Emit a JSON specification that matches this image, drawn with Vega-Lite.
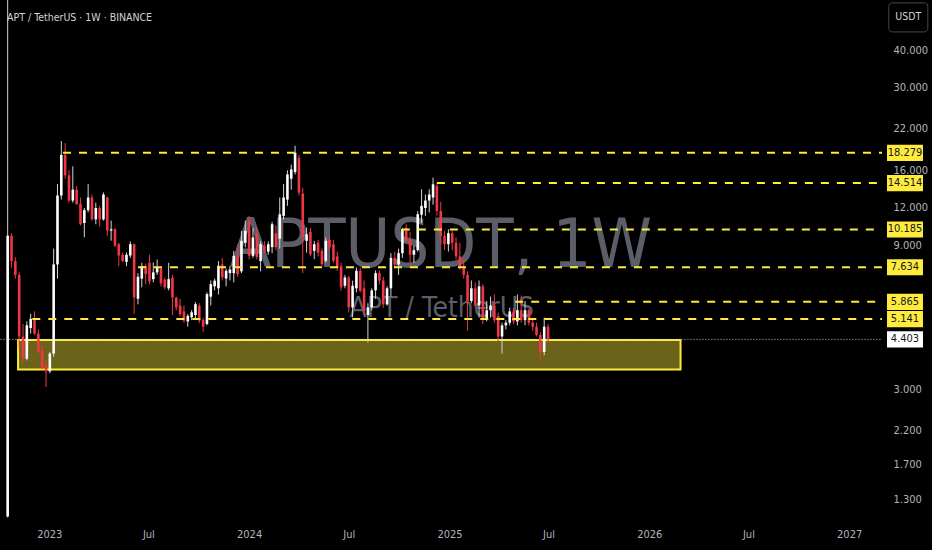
{
  "$schema": "https://vega.github.io/schema/vega-lite/v6.json",
  "width": 882,
  "height": 520,
  "autosize": {"type": "none"},
  "padding": {"left": 0, "top": 0, "right": 50, "bottom": 30},
  "background": "#000000",
  "config": {
    "view": {"stroke": null},
    "text": {"font": "DejaVu Sans Condensed, sans-serif"},
    "axis": {"labelFont": "DejaVu Sans Condensed, sans-serif"}
  },
  "datasets": {
    "candles": [
      {"d":"2022-10-17","o":1.14,"h":100,"l":1.13,"c":9.7},
      {"d":"2022-10-24","o":9.7,"h":9.9,"l":7.6,"c":8.0},
      {"d":"2022-10-31","o":8.0,"h":8.25,"l":7.0,"c":7.2},
      {"d":"2022-11-07","o":7.2,"h":7.35,"l":4.1,"c":4.5},
      {"d":"2022-11-14","o":4.5,"h":4.95,"l":3.7,"c":3.8},
      {"d":"2022-11-21","o":3.8,"h":5.05,"l":3.75,"c":4.9},
      {"d":"2022-11-28","o":4.8,"h":5.35,"l":4.6,"c":5.15},
      {"d":"2022-12-05","o":5.15,"h":5.45,"l":4.55,"c":4.6},
      {"d":"2022-12-12","o":4.6,"h":4.75,"l":3.95,"c":4.0},
      {"d":"2022-12-19","o":4.05,"h":4.2,"l":3.5,"c":3.55},
      {"d":"2022-12-26","o":3.6,"h":3.75,"l":3.06,"c":3.45},
      {"d":"2023-01-02","o":3.45,"h":4.0,"l":3.4,"c":3.95},
      {"d":"2023-01-09","o":3.95,"h":8.8,"l":3.85,"c":7.8},
      {"d":"2023-01-16","o":7.8,"h":14.4,"l":7.0,"c":13.2},
      {"d":"2023-01-23","o":13.2,"h":20.0,"l":12.8,"c":18.0},
      {"d":"2023-01-30","o":18.0,"h":19.7,"l":15.0,"c":15.4},
      {"d":"2023-02-06","o":15.4,"h":16.0,"l":12.5,"c":12.7},
      {"d":"2023-02-13","o":12.7,"h":16.5,"l":12.5,"c":13.8},
      {"d":"2023-02-20","o":13.8,"h":14.2,"l":12.3,"c":12.35},
      {"d":"2023-02-27","o":12.4,"h":13.0,"l":10.5,"c":10.6},
      {"d":"2023-03-06","o":10.7,"h":12.0,"l":9.6,"c":11.8},
      {"d":"2023-03-13","o":11.8,"h":14.4,"l":11.6,"c":13.0},
      {"d":"2023-03-20","o":13.0,"h":13.3,"l":10.9,"c":11.0},
      {"d":"2023-03-27","o":11.0,"h":12.5,"l":10.6,"c":12.0},
      {"d":"2023-04-03","o":12.0,"h":12.2,"l":10.4,"c":11.0},
      {"d":"2023-04-10","o":11.0,"h":13.5,"l":10.9,"c":13.3},
      {"d":"2023-04-17","o":13.0,"h":13.1,"l":9.7,"c":10.1},
      {"d":"2023-04-24","o":10.1,"h":10.9,"l":9.35,"c":10.2},
      {"d":"2023-05-01","o":10.2,"h":10.3,"l":8.9,"c":9.0},
      {"d":"2023-05-08","o":9.1,"h":9.2,"l":7.7,"c":8.35},
      {"d":"2023-05-15","o":8.4,"h":8.55,"l":7.95,"c":8.0},
      {"d":"2023-05-22","o":7.95,"h":8.55,"l":7.7,"c":8.4},
      {"d":"2023-05-29","o":8.35,"h":9.3,"l":8.2,"c":9.1},
      {"d":"2023-06-05","o":9.1,"h":9.15,"l":5.35,"c":6.06},
      {"d":"2023-06-12","o":6.0,"h":7.3,"l":5.75,"c":7.1},
      {"d":"2023-06-19","o":7.0,"h":7.9,"l":6.55,"c":7.7},
      {"d":"2023-06-26","o":7.7,"h":7.85,"l":6.7,"c":7.25},
      {"d":"2023-07-03","o":7.9,"h":8.4,"l":6.7,"c":6.85},
      {"d":"2023-07-10","o":6.97,"h":7.92,"l":6.8,"c":7.34},
      {"d":"2023-07-17","o":7.34,"h":8.1,"l":7.2,"c":7.6},
      {"d":"2023-07-24","o":7.55,"h":7.6,"l":6.6,"c":6.75},
      {"d":"2023-07-31","o":6.95,"h":7.05,"l":6.45,"c":6.55},
      {"d":"2023-08-07","o":6.5,"h":7.9,"l":6.4,"c":6.97},
      {"d":"2023-08-14","o":7.05,"h":7.2,"l":5.3,"c":6.06},
      {"d":"2023-08-21","o":6.06,"h":6.1,"l":5.5,"c":5.62},
      {"d":"2023-08-28","o":5.7,"h":6.0,"l":5.25,"c":5.34},
      {"d":"2023-09-04","o":5.45,"h":5.7,"l":5.0,"c":5.08},
      {"d":"2023-09-11","o":5.05,"h":5.34,"l":4.85,"c":5.27},
      {"d":"2023-09-18","o":5.21,"h":5.5,"l":5.1,"c":5.41},
      {"d":"2023-09-25","o":5.3,"h":5.85,"l":5.15,"c":5.76},
      {"d":"2023-10-02","o":5.69,"h":5.8,"l":4.98,"c":5.08},
      {"d":"2023-10-09","o":5.1,"h":5.2,"l":4.65,"c":4.85},
      {"d":"2023-10-16","o":4.95,"h":6.3,"l":4.9,"c":6.22},
      {"d":"2023-10-23","o":6.1,"h":6.9,"l":5.7,"c":6.71},
      {"d":"2023-10-30","o":6.6,"h":7.0,"l":6.4,"c":6.89},
      {"d":"2023-11-06","o":6.5,"h":8.0,"l":6.2,"c":7.72},
      {"d":"2023-11-13","o":7.8,"h":8.2,"l":6.9,"c":7.06},
      {"d":"2023-11-20","o":7.0,"h":7.55,"l":6.6,"c":7.43},
      {"d":"2023-11-27","o":7.3,"h":7.7,"l":6.9,"c":7.5},
      {"d":"2023-12-04","o":7.3,"h":8.65,"l":6.8,"c":8.33},
      {"d":"2023-12-11","o":8.33,"h":9.1,"l":7.1,"c":7.24},
      {"d":"2023-12-18","o":7.4,"h":10.08,"l":7.3,"c":9.34},
      {"d":"2023-12-25","o":9.2,"h":10.9,"l":8.9,"c":10.08},
      {"d":"2024-01-01","o":10.9,"h":11.3,"l":8.1,"c":8.33},
      {"d":"2024-01-08","o":8.33,"h":10.3,"l":8.2,"c":9.58},
      {"d":"2024-01-15","o":9.8,"h":10.34,"l":8.1,"c":8.26},
      {"d":"2024-01-22","o":8.0,"h":9.3,"l":7.4,"c":9.1},
      {"d":"2024-01-29","o":9.0,"h":9.3,"l":8.5,"c":8.65},
      {"d":"2024-02-05","o":8.6,"h":9.3,"l":8.4,"c":9.1},
      {"d":"2024-02-12","o":8.9,"h":10.8,"l":8.5,"c":10.6},
      {"d":"2024-02-19","o":9.9,"h":10.5,"l":8.7,"c":8.9},
      {"d":"2024-02-26","o":9.5,"h":13.0,"l":8.8,"c":11.44},
      {"d":"2024-03-04","o":11.3,"h":14.4,"l":11.0,"c":13.0},
      {"d":"2024-03-11","o":12.8,"h":16.0,"l":12.2,"c":15.5},
      {"d":"2024-03-18","o":15.0,"h":16.7,"l":13.8,"c":16.1},
      {"d":"2024-03-25","o":15.8,"h":19.3,"l":15.5,"c":18.3},
      {"d":"2024-04-01","o":17.6,"h":18.0,"l":13.2,"c":13.5},
      {"d":"2024-04-08","o":13.4,"h":14.0,"l":7.3,"c":9.6},
      {"d":"2024-04-15","o":9.34,"h":10.34,"l":8.54,"c":9.82},
      {"d":"2024-04-22","o":10.0,"h":10.3,"l":8.3,"c":8.43},
      {"d":"2024-04-29","o":8.65,"h":9.34,"l":8.12,"c":9.1},
      {"d":"2024-05-06","o":9.22,"h":9.4,"l":8.3,"c":8.54},
      {"d":"2024-05-13","o":8.65,"h":8.8,"l":7.7,"c":7.82},
      {"d":"2024-05-20","o":8.02,"h":9.58,"l":7.9,"c":9.34},
      {"d":"2024-05-27","o":9.4,"h":9.7,"l":8.7,"c":8.88},
      {"d":"2024-06-03","o":9.1,"h":9.4,"l":7.9,"c":8.02},
      {"d":"2024-06-10","o":8.3,"h":8.6,"l":7.43,"c":7.62},
      {"d":"2024-06-17","o":7.7,"h":7.9,"l":6.38,"c":6.55},
      {"d":"2024-06-24","o":6.63,"h":7.2,"l":6.5,"c":7.06},
      {"d":"2024-07-01","o":7.06,"h":7.15,"l":5.41,"c":5.62},
      {"d":"2024-07-08","o":5.62,"h":6.89,"l":5.21,"c":6.63},
      {"d":"2024-07-15","o":6.5,"h":7.62,"l":6.3,"c":7.43},
      {"d":"2024-07-22","o":7.43,"h":7.6,"l":6.3,"c":6.38},
      {"d":"2024-07-29","o":6.5,"h":6.9,"l":5.3,"c":5.48},
      {"d":"2024-08-05","o":5.3,"h":5.8,"l":4.3,"c":5.62},
      {"d":"2024-08-12","o":5.62,"h":6.5,"l":5.5,"c":6.4},
      {"d":"2024-08-19","o":6.4,"h":7.45,"l":6.0,"c":7.3},
      {"d":"2024-08-26","o":7.3,"h":7.45,"l":6.7,"c":6.9},
      {"d":"2024-09-02","o":6.9,"h":7.1,"l":5.6,"c":5.75},
      {"d":"2024-09-09","o":5.75,"h":6.6,"l":5.7,"c":6.5},
      {"d":"2024-09-16","o":6.5,"h":8.5,"l":6.1,"c":8.2},
      {"d":"2024-09-23","o":8.2,"h":8.6,"l":7.6,"c":7.8},
      {"d":"2024-09-30","o":7.8,"h":8.8,"l":7.2,"c":8.5},
      {"d":"2024-10-07","o":8.5,"h":10.3,"l":8.2,"c":10.2},
      {"d":"2024-10-14","o":10.3,"h":10.6,"l":9.2,"c":9.34},
      {"d":"2024-10-21","o":9.4,"h":10.0,"l":7.7,"c":8.4},
      {"d":"2024-10-28","o":8.4,"h":9.0,"l":7.9,"c":8.7},
      {"d":"2024-11-04","o":8.7,"h":11.7,"l":8.6,"c":11.44},
      {"d":"2024-11-11","o":11.4,"h":13.84,"l":10.7,"c":12.2},
      {"d":"2024-11-18","o":12.0,"h":13.3,"l":11.3,"c":12.7},
      {"d":"2024-11-25","o":12.7,"h":13.84,"l":11.6,"c":13.3},
      {"d":"2024-12-02","o":13.0,"h":15.13,"l":12.3,"c":14.38},
      {"d":"2024-12-09","o":14.2,"h":14.5,"l":11.3,"c":11.73},
      {"d":"2024-12-16","o":11.73,"h":12.6,"l":9.1,"c":9.7},
      {"d":"2024-12-23","o":9.7,"h":10.1,"l":8.7,"c":9.1},
      {"d":"2024-12-30","o":9.1,"h":10.2,"l":8.6,"c":9.9},
      {"d":"2025-01-06","o":9.9,"h":10.1,"l":8.7,"c":9.2},
      {"d":"2025-01-13","o":9.2,"h":9.6,"l":8.1,"c":8.3},
      {"d":"2025-01-20","o":8.3,"h":9.2,"l":7.5,"c":7.6},
      {"d":"2025-01-27","o":7.6,"h":8.2,"l":7.0,"c":7.2},
      {"d":"2025-02-03","o":7.2,"h":7.4,"l":4.7,"c":5.9},
      {"d":"2025-02-10","o":5.9,"h":6.9,"l":5.8,"c":6.5},
      {"d":"2025-02-17","o":6.5,"h":6.8,"l":5.6,"c":5.7},
      {"d":"2025-02-24","o":5.7,"h":6.9,"l":5.2,"c":6.6},
      {"d":"2025-03-03","o":6.6,"h":6.7,"l":4.95,"c":5.15},
      {"d":"2025-03-10","o":5.15,"h":5.9,"l":5.05,"c":5.5},
      {"d":"2025-03-17","o":5.5,"h":6.1,"l":5.2,"c":5.7},
      {"d":"2025-03-24","o":5.7,"h":6.2,"l":5.0,"c":5.1},
      {"d":"2025-03-31","o":5.25,"h":5.4,"l":4.35,"c":4.5},
      {"d":"2025-04-07","o":4.5,"h":5.0,"l":3.95,"c":4.9},
      {"d":"2025-04-14","o":4.9,"h":5.1,"l":4.75,"c":5.0},
      {"d":"2025-04-21","o":5.0,"h":5.6,"l":4.9,"c":5.45},
      {"d":"2025-04-28","o":5.45,"h":5.6,"l":4.95,"c":5.05},
      {"d":"2025-05-05","o":5.05,"h":6.2,"l":4.9,"c":5.5},
      {"d":"2025-05-12","o":5.5,"h":6.15,"l":5.0,"c":5.1},
      {"d":"2025-05-19","o":5.1,"h":5.9,"l":4.9,"c":5.5},
      {"d":"2025-05-26","o":5.5,"h":5.55,"l":4.9,"c":5.0},
      {"d":"2025-06-02","o":5.0,"h":5.15,"l":4.7,"c":4.85},
      {"d":"2025-06-09","o":4.85,"h":5.0,"l":4.5,"c":4.55},
      {"d":"2025-06-16","o":4.55,"h":4.65,"l":3.75,"c":4.0},
      {"d":"2025-06-23","o":4.0,"h":5.2,"l":3.9,"c":4.85},
      {"d":"2025-06-30","o":4.85,"h":4.95,"l":4.3,"c":4.403}
    ],
    "tags": [
      {"price":18.279,"label":"18.279","kind":"level","from":"2023-01-26"},
      {"price":14.514,"label":"14.514","kind":"level","from":"2024-12-09"},
      {"price":10.185,"label":"10.185","kind":"level","from":"2024-10-06"},
      {"price":7.634,"label":"7.634","kind":"level","from":"2023-06-12"},
      {"price":5.865,"label":"5.865","kind":"level","from":"2025-05-01"},
      {"price":5.141,"label":"5.141","kind":"level","from":"2022-12-01"},
      {"price":4.403,"label":"4.403","kind":"last","from":"2022-09-01"}
    ],
    "zone": [
      {"start":"2022-11-05","end":"2026-02-27","top":4.38,"bottom":3.5}
    ]
  },
  "layer": [
    {
      "data": {"values": [{}]},
      "mark": {"type": "text", "text": "APTUSDT, 1W", "fontSize": 68, "color": "#5b5e68", "align": "center", "baseline": "alphabetic"},
      "encoding": {
        "x": {"datum": {"year": 2024, "month": 12, "date": 16, "utc": true}, "type": "temporal"},
        "y": {"datum": 7.65, "type": "quantitative"}
      }
    },
    {
      "data": {"values": [{}]},
      "mark": {"type": "text", "text": "APT / TetherUS", "fontSize": 28, "color": "#5b5e68", "align": "center", "baseline": "alphabetic"},
      "encoding": {
        "x": {"datum": {"year": 2024, "month": 12, "date": 18, "utc": true}, "type": "temporal"},
        "y": {"datum": 5.22, "type": "quantitative"}
      }
    },
    {
      "data": {"name": "zone"},
      "mark": {"type": "rect", "fill": "#ffeb3b", "fillOpacity": 0.42, "stroke": "#ffeb3b", "strokeWidth": 2, "clip": true},
      "encoding": {
        "x": {"field": "start", "type": "temporal"},
        "x2": {"field": "end"},
        "y": {"field": "top", "type": "quantitative"},
        "y2": {"field": "bottom"}
      }
    },
    {
      "data": {"name": "candles"},
      "mark": {"type": "rule", "strokeWidth": 1, "clip": true},
      "encoding": {
        "x": {
          "field": "d", "type": "temporal",
          "scale": {"type": "utc", "domain": [{"year": 2022, "month": 10, "date": 3, "utc": true}, {"year": 2027, "month": 3, "date": 2, "utc": true}], "nice": false, "padding": 0},
          "axis": {
            "title": null, "domain": false, "ticks": false, "grid": false,
            "values": [
              {"year": 2023, "month": 1, "date": 1, "utc": true},
              {"year": 2023, "month": 7, "date": 1, "utc": true},
              {"year": 2024, "month": 1, "date": 1, "utc": true},
              {"year": 2024, "month": 7, "date": 1, "utc": true},
              {"year": 2025, "month": 1, "date": 1, "utc": true},
              {"year": 2025, "month": 7, "date": 1, "utc": true},
              {"year": 2026, "month": 1, "date": 1, "utc": true},
              {"year": 2026, "month": 7, "date": 1, "utc": true},
              {"year": 2027, "month": 1, "date": 1, "utc": true}
            ],
            "labelExpr": "utcFormat(datum.value, '%m') == '01' ? utcFormat(datum.value, '%Y') : utcFormat(datum.value, '%b')",
            "labelColor": "#b2b5be", "labelFontSize": 11, "labelPadding": 8,
            "labelFlush": false, "labelOverlap": false, "labelBound": false
          }
        },
        "y": {
          "field": "l", "type": "quantitative",
          "scale": {"type": "log", "domain": [1.109, 58.7], "nice": false, "zero": false, "padding": 0},
          "axis": {
            "orient": "right", "title": null, "domain": false, "ticks": false, "tickSize": 0, "grid": false,
            "values": [1.3, 1.7, 2.2, 3, 9, 12, 16, 22, 30, 40],
            "format": ".3f",
            "labelColor": "#b2b5be", "labelFontSize": 11, "labelPadding": 11,
            "labelAlign": "left", "labelBaseline": "middle",
            "labelFlush": false, "labelOverlap": false, "labelBound": false
          }
        },
        "y2": {"field": "h"},
        "color": {"condition": {"test": "datum.c >= datum.o", "value": "#d1d4dc"}, "value": "#f23645"}
      }
    },
    {
      "data": {"name": "candles"},
      "mark": {"type": "bar", "size": 2.6, "clip": true},
      "encoding": {
        "x": {"field": "d", "type": "temporal"},
        "y": {"field": "o", "type": "quantitative"},
        "y2": {"field": "c"},
        "color": {"condition": {"test": "datum.c >= datum.o", "value": "#ffffff"}, "value": "#f23645"}
      }
    },
    {
      "data": {"name": "tags"},
      "transform": [{"filter": "datum.kind == 'level'"}],
      "mark": {"type": "rule", "color": "#ffeb3b", "strokeWidth": 2, "strokeDash": [8, 8], "clip": true},
      "encoding": {
        "x": {"field": "from", "type": "temporal"},
        "x2": {"datum": {"year": 2027, "month": 6, "date": 1, "utc": true}},
        "y": {"field": "price", "type": "quantitative"}
      }
    },
    {
      "data": {"name": "tags"},
      "transform": [{"filter": "datum.kind == 'last'"}],
      "mark": {"type": "rule", "color": "#c8cad0", "strokeWidth": 1, "strokeDash": [1, 2], "clip": true},
      "encoding": {
        "x": {"field": "from", "type": "temporal"},
        "x2": {"datum": {"year": 2027, "month": 6, "date": 1, "utc": true}},
        "y": {"field": "price", "type": "quantitative"}
      }
    },
    {
      "data": {"name": "tags"},
      "mark": {"type": "point", "shape": "M-1,-0.45H1V0.45H-1Z", "size": 1296, "filled": true, "opacity": 1, "strokeWidth": 0},
      "encoding": {
        "x": {"datum": {"year": 2027, "month": 4, "date": 13, "utc": true}, "type": "temporal"},
        "y": {"field": "price", "type": "quantitative"},
        "color": {"condition": {"test": "datum.kind == 'last'", "value": "#ffffff"}, "value": "#ffeb3b"}
      }
    },
    {
      "data": {"name": "tags"},
      "mark": {"type": "text", "fontSize": 11, "color": "#131722", "align": "center", "baseline": "middle"},
      "encoding": {
        "x": {"datum": {"year": 2027, "month": 4, "date": 13, "utc": true}, "type": "temporal"},
        "y": {"field": "price", "type": "quantitative"},
        "text": {"field": "label"}
      }
    },
    {
      "data": {"values": [{}]},
      "mark": {"type": "text", "text": "APT / TetherUS · 1W · BINANCE", "fontSize": 10.5, "color": "#d1d4dc", "align": "left", "baseline": "middle"},
      "encoding": {
        "x": {"datum": {"year": 2022, "month": 10, "date": 16, "utc": true}, "type": "temporal"},
        "y": {"datum": 51.2, "type": "quantitative"}
      }
    },
    {
      "data": {"values": [{}]},
      "mark": {"type": "point", "shape": "M-0.82,-0.744H0.82A0.18,0.18 0 0 1 1,-0.564V0.564A0.18,0.18 0 0 1 0.82,0.744H-0.82A0.18,0.18 0 0 1 -1,0.564V-0.564A0.18,0.18 0 0 1 -0.82,-0.744Z", "size": 1521, "filled": false, "fill": "#000000", "stroke": "#434651", "strokeWidth": 1, "opacity": 1},
      "encoding": {
        "x": {"datum": {"year": 2027, "month": 4, "date": 19, "utc": true}, "type": "temporal"},
        "y": {"datum": 51.4, "type": "quantitative"}
      }
    },
    {
      "data": {"values": [{}]},
      "mark": {"type": "text", "text": "USDT", "fontSize": 10.5, "color": "#d1d4dc", "align": "center", "baseline": "middle"},
      "encoding": {
        "x": {"datum": {"year": 2027, "month": 4, "date": 19, "utc": true}, "type": "temporal"},
        "y": {"datum": 51.4, "type": "quantitative"}
      }
    }
  ]
}
